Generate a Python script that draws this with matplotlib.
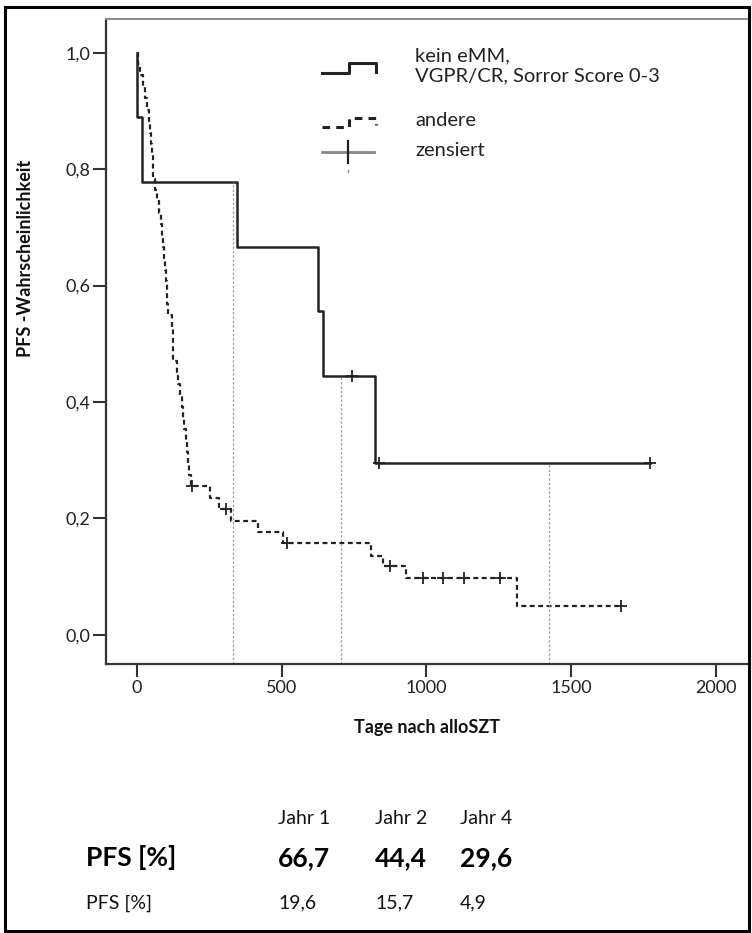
import matplotlib
matplotlib.use("Agg")
import matplotlib.pyplot as plt
from matplotlib.lines import Line2D
from matplotlib.patches import Rectangle

plt.rcParams['font.family'] = ['Lato', 'DejaVu Sans']

# group 1: kein eMM, VGPR/CR, Sorror Score 0-3
good_days = [0, 1, 16, 345, 626, 644, 822, 1772]
good_pfs = [1.0, 0.889, 0.778, 0.667, 0.556, 0.444, 0.296, 0.296]
good_cens_days = [743, 836, 1772]
good_cens_pfs = [0.444, 0.296, 0.296]

# group 2: andere
other_days = [0, 5, 12, 20, 28, 35, 40, 44, 48, 51,
              54, 57, 62, 68, 75, 82, 87, 90, 94, 97,
              100, 103, 105, 107, 121, 123, 124, 125, 137, 142,
              148, 155, 160, 164, 168, 172, 176, 180, 185, 252,
              285, 325, 417, 505, 808, 850, 929, 1313, 1671]
other_pfs = [1.0, 0.980, 0.961, 0.941, 0.922, 0.902, 0.882, 0.863, 0.843, 0.824,
             0.804, 0.784, 0.765, 0.745, 0.725, 0.706, 0.686, 0.667, 0.647, 0.627,
             0.608, 0.588, 0.569, 0.549, 0.529, 0.510, 0.490, 0.471, 0.451, 0.431,
             0.412, 0.392, 0.373, 0.353, 0.333, 0.314, 0.294, 0.275, 0.255, 0.235,
             0.216, 0.196, 0.177, 0.157, 0.135, 0.118, 0.098, 0.049, 0.049]
other_cens_days = [190, 308, 517, 874, 987, 1058, 1130, 1254, 1671]
other_cens_pfs = [0.255, 0.216, 0.157, 0.118, 0.098, 0.098, 0.098, 0.098, 0.049]

# reference lines at year 1, 2, 4
year_days = [330, 703, 1423]
year_pfs = [0.778, 0.444, 0.296]

x_ticks = [0, 500, 1000, 1500, 2000]
y_ticks = [0.0, 0.2, 0.4, 0.6, 0.8, 1.0]

legend_labels = ["kein eMM,\nVGPR/CR, Sorror Score 0-3", "andere", "zensiert"]
table_cols = ["Jahr 1", "Jahr 2", "Jahr 4"]
pfs_good = ["66,7", "44,4", "29,6"]
pfs_other = ["19,6", "15,7", "4,9"]

W, H = 752, 933
fig = plt.figure(figsize=(W / 100, H / 100), dpi=100)


def fx(px):
    return px / W


def fy(py):
    return 1 - py / H


ax = fig.add_axes([fx(106), fy(664), fx(749) - fx(106), fy(19) - fy(664)])
ax.set_xlim(-107, 2114)
ax.set_ylim(-0.05, 1.058)

ax.step(good_days, good_pfs, where='post', color='#222222', lw=1.8)
ax.step(other_days, other_pfs, where='post', color='#222222', lw=1.6,
        linestyle=(0, (2.2, 1.6)))
ax.plot(good_cens_days, good_cens_pfs, '+', color='#222222', ms=8, mew=1.3)
ax.plot(other_cens_days, other_cens_pfs, '+', color='#222222', ms=8, mew=1.3)

ax.vlines(year_days, -0.05, year_pfs, colors='#a0a0a0', lw=0.9,
          linestyles=(0, (2, 1.5)))

ax.set_xticks(x_ticks)
ax.set_yticks(y_ticks)
ax.set_yticklabels([f"{v:.1f}".replace('.', ',') for v in y_ticks])
ax.tick_params(direction='out', length=9.5, width=1.5, color='#333333',
               labelsize=13, labelcolor='#222222', pad=2)
for side in ['left', 'bottom']:
    ax.spines[side].set_color('#333333')
    ax.spines[side].set_linewidth(1.6)
for side in ['top', 'right']:
    ax.spines[side].set_color('#8a8a8a')
    ax.spines[side].set_linewidth(1.4)

fig.text(fx(26), fy(258), "PFS -Wahrscheinlichkeit", rotation=90,
         ha='center', va='center', fontsize=13, fontweight='bold', color='#111111')
fig.text(fx(427), fy(728), "Tage nach alloSZT", ha='center', va='center',
         fontsize=13, fontweight='bold', color='#111111')

# legend handles
lc = '#222222'
fig.add_artist(Line2D([fx(322), fx(349), fx(349), fx(376), fx(376)],
                      [fy(73), fy(73), fy(63), fy(63), fy(72)], color=lc, lw=2.2))
fig.add_artist(Line2D([fx(322), fx(349), fx(349), fx(376), fx(376)],
                      [fy(127), fy(127), fy(118), fy(118), fy(125)], color=lc, lw=2.2,
                      linestyle=(0, (2.5, 2.0))))
fig.add_artist(Line2D([fx(322), fx(374)], [fy(152), fy(152)], color='#888888', lw=2.0))
fig.add_artist(Line2D([fx(348), fx(348)], [fy(141), fy(163)], color=lc, lw=1.6))
fig.add_artist(Line2D([fx(348), fx(348)], [fy(170), fy(172)], color='#888888', lw=1.0))

fig.text(fx(415), fy(66), legend_labels[0], ha='left', va='center', fontsize=14.5,
         color='#222222', linespacing=1.2)
fig.text(fx(415), fy(121), legend_labels[1], ha='left', va='center', fontsize=14.5,
         color='#222222')
fig.text(fx(415), fy(150), legend_labels[2], ha='left', va='center', fontsize=14.5,
         color='#222222')

# table of PFS at year 1, 2, 4
col_x = [278, 375, 460]
for cx, col, g, o in zip(col_x, table_cols, pfs_good, pfs_other):
    fig.text(fx(cx), fy(818), col, ha='left', va='center', fontsize=14, color='#111111')
    fig.text(fx(cx), fy(858), g, ha='left', va='center', fontsize=19,
             fontweight='bold', color='#000000')
    fig.text(fx(cx), fy(903), o, ha='left', va='center', fontsize=14, color='#111111')
fig.text(fx(86), fy(858), "PFS [%]", ha='left', va='center', fontsize=19,
         fontweight='bold', color='#000000')
fig.text(fx(86), fy(903), "PFS [%]", ha='left', va='center', fontsize=14, color='#111111')

# outer frame
fig.add_artist(Rectangle((fx(5), fy(931)), fx(749) - fx(5), fy(7) - fy(931),
                         fill=False, edgecolor='black', lw=2.2))

fig.savefig("out.png", dpi=100)
